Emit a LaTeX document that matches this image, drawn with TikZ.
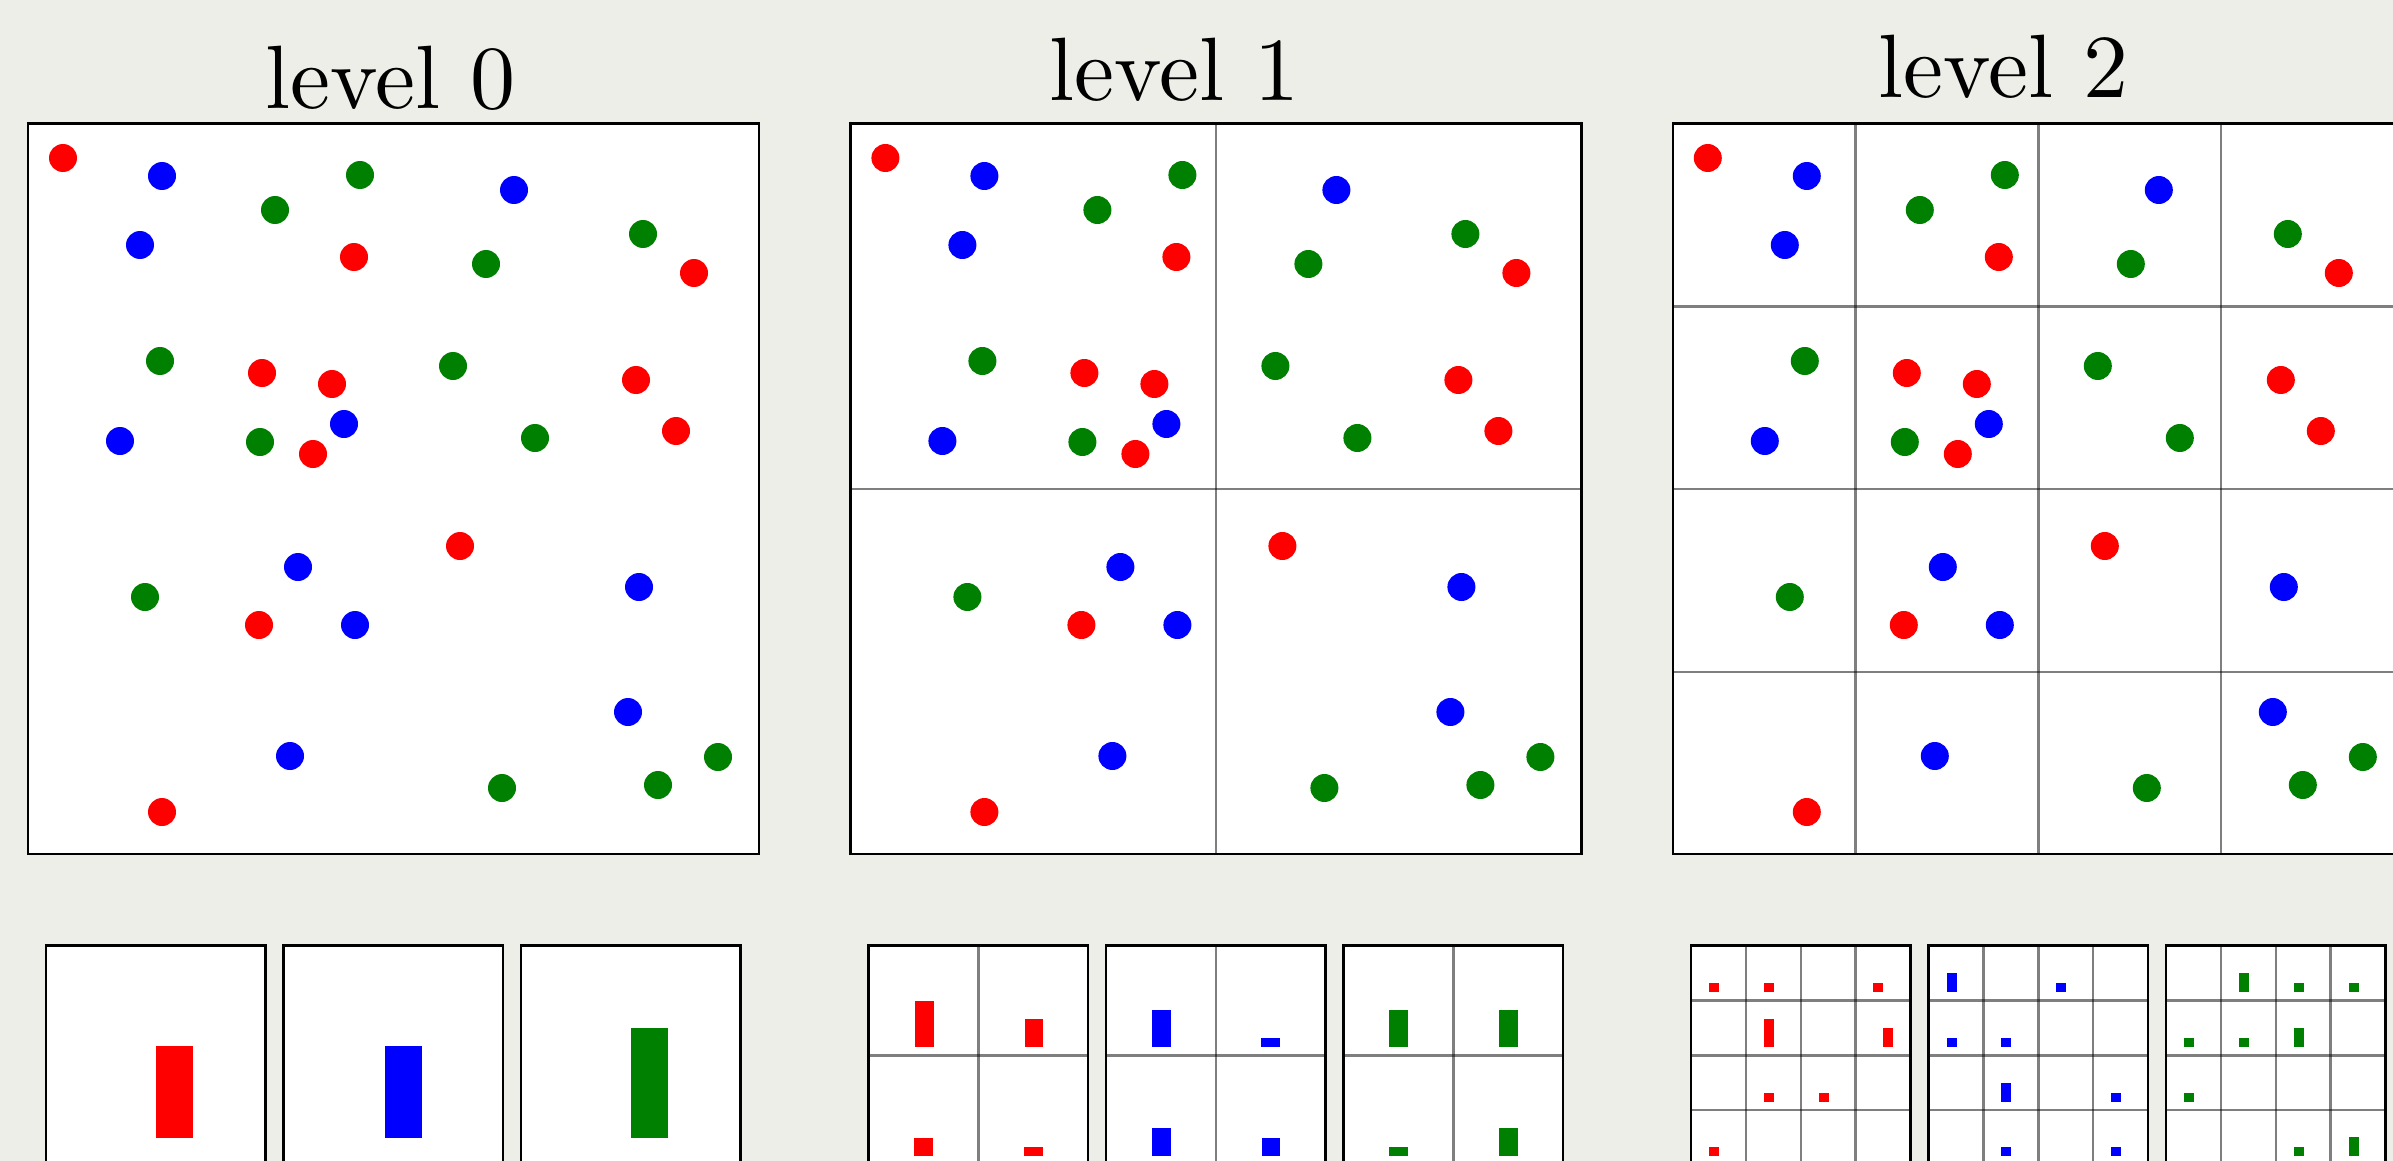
\documentclass[tikz,border=0pt]{standalone}
\usepackage{fontspec}
\newfontfamily\ttlfont{lmroman10-regular.otf}
\definecolor{bgc}{RGB}{238,238,233}
\definecolor{dred}{RGB}{255,0,0}
\definecolor{dblue}{RGB}{0,0,255}
\definecolor{dgreen}{RGB}{0,128,0}
\begin{document}
\begin{tikzpicture}[x=1pt,y=-1pt,
  frame/.style={draw=black,line width=2.5pt},
  gridline/.style={draw=black,draw opacity=0.5,line width=2.5pt},
  title/.style={anchor=base west,inner sep=0pt,font=\ttlfont\fontsize{90}{100}\selectfont}]
\useasboundingbox (0,0) rectangle (2393,1161);
\fill[bgc] (0,0) rectangle (2393,1161);
\clip (0,0) rectangle (2393,1161);

% titles
\node[title] (t0) at (265.5,108.5) {level 0};
\node[title] (t1) at (1049,101) {level 1};
\node[title] (t2) at (1878,97.7) {level 2};

% main panels
\foreach \o in {0,822.4,1644.8} {
  \fill[white] ({28+\o},123.5) rectangle ++(731,730.5);
}
\draw[gridline] ({393.5+822.4},123.5) -- ++(0,730.5);
\draw[gridline] ({28+822.4},488.75) -- ++(731,0);
\foreach \t in {1,2,3} {
  \draw[gridline] ({28+1644.8+182.75*\t},123.5) -- ++(0,730.5);
  \draw[gridline] ({28+1644.8},{123.5+182.75*\t}) -- ++(731,0);
}
\foreach \o in {0,822.4,1644.8} {
  \foreach \x/\y in {63/158,354/257,694/273,262/373,332/384,636/380,676/431,313/454,460/546,259/625,162/812}
    \fill[dred] ({\x+\o},\y) circle[radius=14pt];
  \foreach \x/\y in {162/176,514/190,140/245,344/424,120/441,298/567,639/587,355/625,628/712,290/756}
    \fill[dblue] ({\x+\o},\y) circle[radius=14pt];
  \foreach \x/\y in {360/175,275/210,643/234,486/264,160/361,453/366,260/442,535/438,145/597,502/788,658/785,718/757}
    \fill[dgreen] ({\x+\o},\y) circle[radius=14pt];
  \draw[frame] ({28+\o},123.5) rectangle ++(731,730.5);
}

% histogram boxes
\foreach \o in {0,822.5,1645} {
  \foreach \b in {0,237.5,475} {
    \fill[white] ({46+\o+\b},945.5) rectangle ++(219.5,219.5);
  }
}
\foreach \b in {0,237.5,475} {
  \draw[gridline] ({46+822.5+\b+109.75},945.5) -- ++(0,219.5);
  \draw[gridline] ({46+822.5+\b},1055.25) -- ++(219.5,0);
  \foreach \t in {1,2,3} {
    \draw[gridline] ({46+1645+\b+54.875*\t},945.5) -- ++(0,219.5);
    \draw[gridline] ({46+1645+\b},{945.5+54.875*\t}) -- ++(219.5,0);
  }
}

% level 0 bars
\fill[dred] (156,1138) rectangle ++(37,-92);
\fill[dblue] (384.5,1138) rectangle ++(37,-92);
\fill[dgreen] (631,1138) rectangle ++(37,-110);

% level 1 bars
\foreach \x/\y/\c in {924.5/1047/5,1034/1047/3,923.5/1156/2,1033.5/1156/1}
  \fill[dred] ({\x-9.25},\y) rectangle ++(18.5,{-9.2*\c});
\foreach \x/\y/\c in {1161.5/1047/4,1270.5/1047/1,1161.5/1156/3,1271/1156/2}
  \fill[dblue] ({\x-9.25},\y) rectangle ++(18.5,{-9.2*\c});
\foreach \x/\y/\c in {1398.5/1047/4,1508.5/1047/4,1398.5/1156/1,1508.5/1156/3}
  \fill[dgreen] ({\x-9.25},\y) rectangle ++(18.5,{-9.2*\c});

% level 2 bars
\foreach \x/\y/\c in {1709.2/992/1,1764.2/992/1,1873.2/992/1,1764.2/1047/3,1883.2/1047/2,1764.2/1102/1,1819.2/1102/1,1709.2/1156/1}
  \fill[dred] (\x,\y) rectangle ++(10,{-9.4*\c});
\foreach \x/\y/\c in {1947.2/992/2,2056.2/992/1,1947.2/1047/1,2001.2/1047/1,2001.2/1102/2,2111.1/1102/1,2001.2/1156/1,2111.1/1156/1}
  \fill[dblue] (\x,\y) rectangle ++(10,{-9.4*\c});
\foreach \x/\y/\c in {2239.1/992/2,2294.1/992/1,2349/992/1,2184.1/1047/1,2239.1/1047/1,2294.1/1047/2,2184.1/1102/1,2294.1/1156/1,2349/1156/2}
  \fill[dgreen] (\x,\y) rectangle ++(10,{-9.4*\c});

% histogram borders
\foreach \o in {0,822.5,1645} {
  \foreach \b in {0,237.5,475} {
    \draw[frame] ({46+\o+\b},945.5) rectangle ++(219.5,219.5);
  }
}
\end{tikzpicture}
\end{document}
